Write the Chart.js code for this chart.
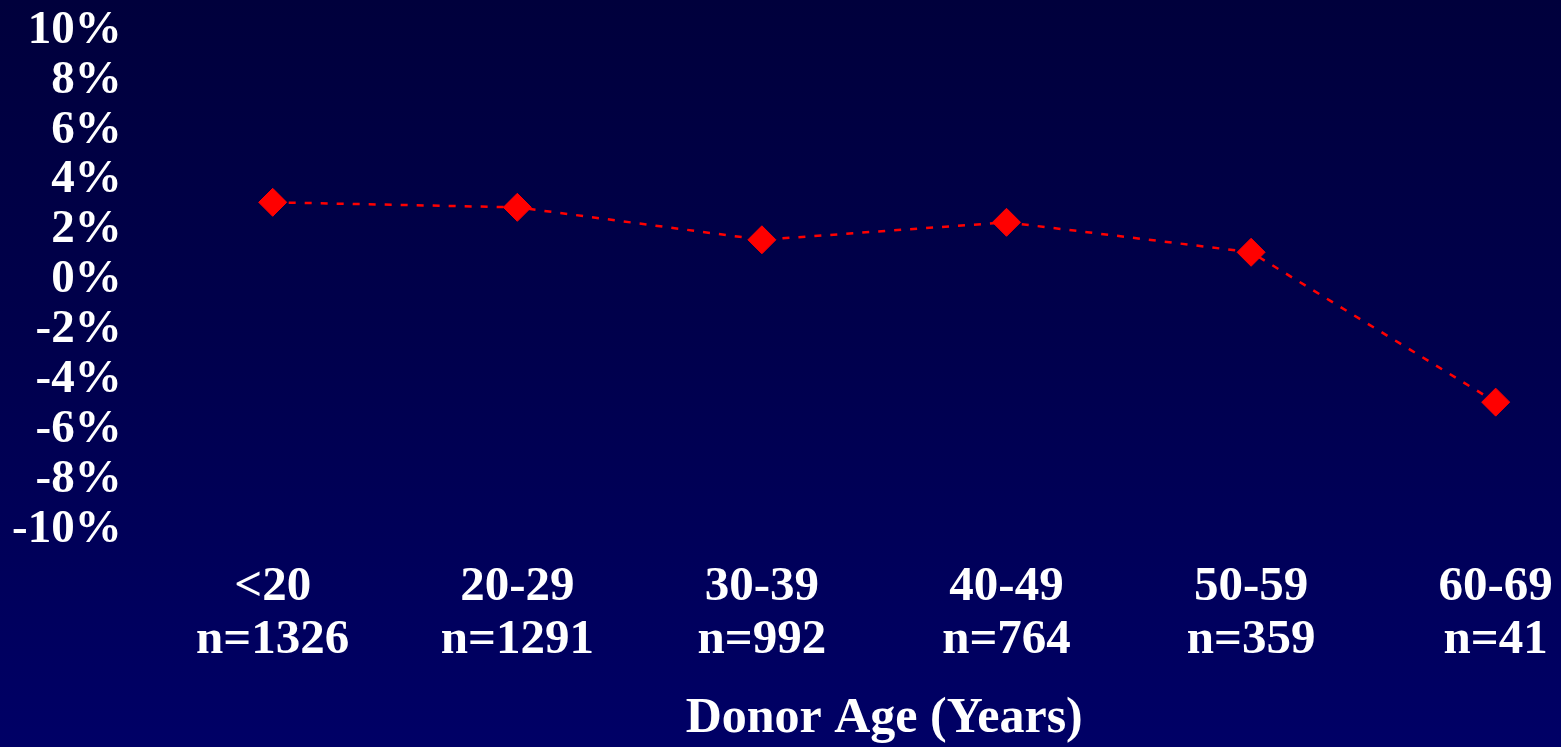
<!DOCTYPE html>
<html>
<head>
<meta charset="utf-8">
<title>Donor Age</title>
<script src="https://cdn.jsdelivr.net/npm/chart.js@4/dist/chart.umd.min.js"></script>
<style>
  html, body { margin: 0; padding: 0; }
  body {
    width: 1561px; height: 747px; overflow: hidden;
    background: linear-gradient(to bottom, #00003c 0%, #00004c 45%, #000066 100%);
  }
  #wrap { position: relative; width: 1561px; height: 747px; }
</style>
</head>
<body>
<div id="wrap"><canvas id="chart" width="1561" height="747"></canvas></div>
<script>
// Age groups of the donors and the number of cases in each
const ageGroups = ['<20', '20-29', '30-39', '40-49', '50-59', '60-69'];
const caseCounts = [1326, 1291, 992, 764, 359, 41];
// Percentage difference per age group
const diffValues = [3.0, 2.8, 1.5, 2.2, 1.0, -5.0];
// Value axis ticks
const yTicks = [10, 8, 6, 4, 2, 0, -2, -4, -6, -8, -10];

const serif = '"Times New Roman", "Liberation Serif", serif';
const labels = ageGroups.map((g, i) => [g, 'n=' + caseCounts[i]]);

new Chart(document.getElementById('chart'), {
  type: 'line',
  data: {
    labels: labels,
    datasets: [{
      data: diffValues,
      borderColor: '#ff0000',
      borderWidth: 2.5,
      borderDash: [7, 9],
      pointStyle: 'rectRot',
      pointRadius: 14,
      pointBackgroundColor: '#ff0000',
      pointBorderColor: '#ff0000',
      pointBorderWidth: 1,
      tension: 0,
      fill: false
    }]
  },
  options: {
    responsive: false,
    animation: false,
    events: [],
    layout: { padding: { top: 27.5, right: 65.3, bottom: 0, left: 0 } },
    plugins: { legend: { display: false }, tooltip: { enabled: false } },
    scales: {
      x: {
        type: 'category',
        offset: false,
        grid: { display: false, drawTicks: false },
        border: { display: false },
        ticks: {
          color: '#ffffff',
          padding: 34,
          maxRotation: 0,
          autoSkip: false,
          font: { family: serif, size: 49, weight: 'bold', lineHeight: 1.08 }
        },
        title: {
          display: true,
          text: 'Donor Age (Years)',
          color: '#ffffff',
          padding: { top: 0, bottom: 0 },
          font: { family: serif, size: 50, weight: 'bold', lineHeight: 1.1 }
        },
        afterFit: (scale) => {
          scale.height = 220;
          scale.paddingLeft = 0;
          scale.paddingRight = 0;
        }
      },
      y: {
        min: -10,
        max: 10,
        grid: { display: false, drawTicks: false },
        border: { display: false },
        afterBuildTicks: (scale) => { scale.ticks = yTicks.map(v => ({ value: v })); },
        ticks: {
          color: '#ffffff',
          padding: 151,
          labelOffset: 3,
          autoSkip: false,
          font: { family: serif, size: 47, weight: 'bold', lineHeight: 1.0 },
          callback: (v) => v + '%'
        },
        afterFit: (scale) => {
          scale.width = 272.7;
          scale.paddingTop = 0;
          scale.paddingBottom = 0;
        }
      }
    }
  }
});
</script>
</body>
</html>
